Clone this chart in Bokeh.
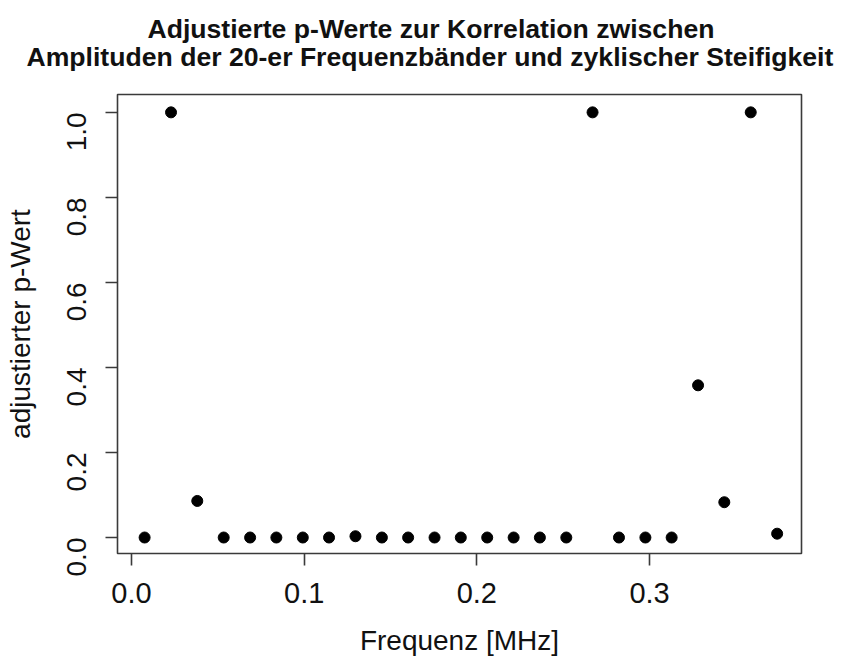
import math
from bokeh.plotting import figure
from bokeh.models import FixedTicker, PrintfTickFormatter, Title, Range1d, ColumnDataSource
from bokeh.embed import file_html
from bokeh.resources import INLINE

# Data
frequenz_mhz = [0.0076, 0.0229, 0.0381, 0.0534, 0.0687, 0.0839, 0.0992, 0.1144,
                0.1297, 0.1450, 0.1602, 0.1755, 0.1907, 0.2060, 0.2213, 0.2365,
                0.2518, 0.2670, 0.2823, 0.2976, 0.3128, 0.3281, 0.3433, 0.3586,
                0.3739]
p_adj = [0.0, 1.0, 0.086, 0.0, 0.0, 0.0, 0.0, 0.0,
         0.003, 0.0, 0.0, 0.0, 0.0, 0.0, 0.0, 0.0,
         0.0, 1.0, 0.0, 0.0, 0.0, 0.358, 0.083, 1.0,
         0.009]
x_ticks = [0.0, 0.1, 0.2, 0.3]
y_ticks = [0.0, 0.2, 0.4, 0.6, 0.8, 1.0]

title_line1 = "Adjustierte p-Werte zur Korrelation zwischen"
title_line2 = "Amplituden der 20-er Frequenzbänder und zyklischer Steifigkeit"
x_label = "Frequenz [MHz]"
y_label = "adjustierter p-Wert"

FONT = "Liberation Sans"
AX = "#3a3a3a"

p = figure(width=842, height=660, output_backend="svg", toolbar_location=None,
           x_range=Range1d(-0.0081, 0.388), y_range=Range1d(-0.0376, 1.042),
           min_border_left=117, min_border_right=41, min_border_top=94,
           min_border_bottom=107, title=None)

src = ColumnDataSource(dict(x=frequenz_mhz, y=p_adj))
p.scatter("x", "y", source=src, size=11, color="black")

p.grid.visible = False
p.outline_line_color = AX
p.outline_line_width = 1.6
p.background_fill_color = "white"
p.border_fill_color = "white"

for ax in (p.xaxis[0], p.yaxis[0]):
    ax.axis_line_color = None
    ax.major_tick_line_color = AX
    ax.major_tick_line_width = 1.6
    ax.major_tick_in = 0
    ax.major_tick_out = 12
    ax.minor_tick_line_color = None
    ax.major_label_text_font = FONT
    ax.major_label_text_font_size = "28px"
    ax.major_label_text_color = "#111111"
    ax.axis_label_text_font = FONT
    ax.axis_label_text_font_size = "28px"
    ax.axis_label_text_font_style = "normal"
    ax.axis_label_text_color = "#111111"
    ax.formatter = PrintfTickFormatter(format="%.1f")

p.xaxis[0].ticker = FixedTicker(ticks=x_ticks)
p.yaxis[0].ticker = FixedTicker(ticks=y_ticks)
p.xaxis[0].axis_label = x_label
p.yaxis[0].axis_label = y_label
p.xaxis[0].major_label_text_font_size = "29px"
p.xaxis[0].major_label_standoff = 17
p.xaxis[0].axis_label_standoff = 19
p.yaxis[0].major_label_orientation = math.pi / 2
p.yaxis[0].major_label_standoff = 29
p.yaxis[0].axis_label_standoff = 19

# spacer between frame and title block
p.add_layout(Title(text=" ", text_font=FONT, text_font_size="1px", standoff=19.5), "above")
p.add_layout(Title(text=title_line2, align="left", offset=-91,
                   text_font=FONT, text_font_size="26.6px", text_font_style="bold",
                   text_color="#111111", standoff=0), "above")
p.add_layout(Title(text=title_line1, align="left", offset=30,
                   text_font=FONT, text_font_size="26.6px", text_font_style="bold",
                   text_color="#111111", standoff=-9), "above")

open("out.html", "w").write(file_html(p, INLINE))
